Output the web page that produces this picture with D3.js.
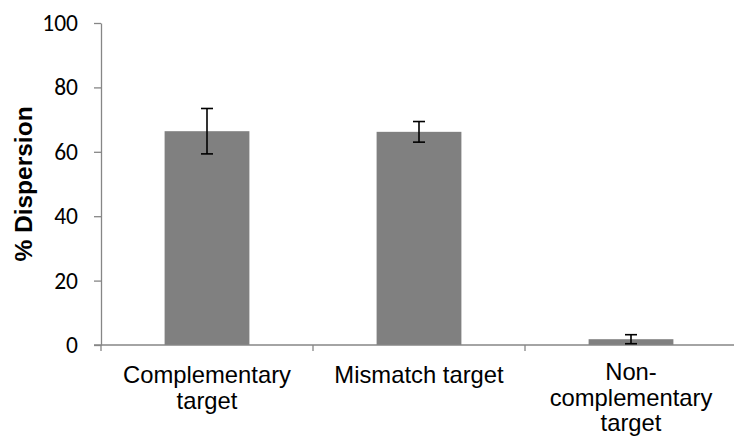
<!DOCTYPE html>
<html>
<head>
<meta charset="utf-8">
<script src="https://cdn.jsdelivr.net/npm/d3@7"></script>
<style>
  html, body { margin: 0; padding: 0; background: #ffffff; }
  #bar-chart-div { width: 734px; height: 442px; }
</style>
</head>
<body>
<div id="bar-chart-div"></div>
<script>
// --- Data ---
const categories = ['Complementary target', 'Mismatch target', 'Non-complementary target'];
const categoryLines = [['Complementary', 'target'], ['Mismatch target'], ['Non-', 'complementary', 'target']];
const dispersion = [66.4, 66.2, 1.8];
const errors = [7.05, 3.2, 1.4];
const yTicks = [0, 20, 40, 60, 80, 100];

function createBarChart() {
  const targetDivId = 'bar-chart-div';
  const width = 734;
  const height = 442;
  const plot = { left: 101, right: 737, top: 23, bottom: 345 };
  const axisColor = '#868686';

  const svg = d3.select(`#${targetDivId}`)
    .append('svg')
    .attr('width', width)
    .attr('height', height);

  const x = d3.scaleBand()
    .domain(categories)
    .range([plot.left, plot.right])
    .padding(0);

  const y = d3.scaleLinear()
    .domain([0, 100])
    .range([plot.bottom, plot.top]);

  const data = categories.map((c, i) => ({
    cat: c, lines: categoryLines[i], value: dispersion[i], err: errors[i]
  }));

  const barWidth = x.bandwidth() * 0.4;

  // --- Bars ---
  svg.selectAll('rect.bar')
    .data(data)
    .enter().append('rect')
    .attr('class', 'bar')
    .attr('x', d => x(d.cat) + (x.bandwidth() - barWidth) / 2)
    .attr('width', barWidth)
    .attr('y', d => y(d.value))
    .attr('height', d => y(0) - y(d.value))
    .attr('fill', '#808080');

  // --- Y axis ---
  const yAxis = d3.axisLeft(y)
    .tickValues(yTicks)
    .tickSize(7)
    .tickSizeOuter(0)
    .tickPadding(16)
    .tickFormat(d3.format('d'));

  const gy = svg.append('g')
    .attr('transform', `translate(${plot.left},0)`)
    .call(yAxis);
  gy.select('.domain').attr('stroke', axisColor).attr('stroke-width', 1.3);
  gy.selectAll('.tick line').attr('stroke', axisColor).attr('stroke-width', 1.3);
  gy.selectAll('.tick text')
    .style('font-family', 'Carlito, Lato, "Open Sans", sans-serif')
    .style('font-size', '23.5px')
    .attr('fill', '#000');

  // --- X axis (Excel style: ticks between categories) ---
  svg.append('line')
    .attr('x1', plot.left - 7)
    .attr('x2', plot.right)
    .attr('y1', y(0))
    .attr('y2', y(0))
    .attr('stroke', axisColor)
    .attr('stroke-width', 1.3);

  const boundaries = categories.map(c => x(c)).concat([x.range()[1]]);
  svg.selectAll('line.xtick')
    .data(boundaries)
    .enter().append('line')
    .attr('class', 'xtick')
    .attr('x1', d => d)
    .attr('x2', d => d)
    .attr('y1', y(0))
    .attr('y2', y(0) + 6)
    .attr('stroke', axisColor)
    .attr('stroke-width', 1.3);

  const labels = svg.selectAll('text.xlabel')
    .data(data)
    .enter().append('text')
    .attr('class', 'xlabel')
    .attr('text-anchor', 'middle')
    .style('font-family', '"Liberation Sans", Arial, sans-serif')
    .style('font-size', '23.8px')
    .attr('fill', '#000')
    .attr('transform', d => `translate(${x(d.cat) + x.bandwidth() / 2},${d.lines.length > 2 ? 380 : 383})`);

  labels.selectAll('tspan')
    .data(d => d.lines)
    .enter().append('tspan')
    .attr('x', 0)
    .attr('y', (d, i) => i * 25.5)
    .text(d => d);

  // --- Error bars ---
  const capHalf = 6;
  const eb = svg.selectAll('g.errbar')
    .data(data)
    .enter().append('g')
    .attr('class', 'errbar')
    .attr('stroke', '#000')
    .attr('stroke-width', 1.6);

  eb.append('line')
    .attr('x1', d => x(d.cat) + x.bandwidth() / 2)
    .attr('x2', d => x(d.cat) + x.bandwidth() / 2)
    .attr('y1', d => y(d.value - d.err))
    .attr('y2', d => y(d.value + d.err));
  eb.append('line')
    .attr('x1', d => x(d.cat) + x.bandwidth() / 2 - capHalf)
    .attr('x2', d => x(d.cat) + x.bandwidth() / 2 + capHalf)
    .attr('y1', d => y(d.value + d.err))
    .attr('y2', d => y(d.value + d.err));
  eb.append('line')
    .attr('x1', d => x(d.cat) + x.bandwidth() / 2 - capHalf)
    .attr('x2', d => x(d.cat) + x.bandwidth() / 2 + capHalf)
    .attr('y1', d => y(d.value - d.err))
    .attr('y2', d => y(d.value - d.err));

  // --- Y title ---
  svg.append('text')
    .attr('transform', `translate(32,${(plot.top + plot.bottom) / 2}) rotate(-90)`)
    .attr('text-anchor', 'middle')
    .style('font-family', '"Liberation Sans", Arial, sans-serif')
    .style('font-size', '24.5px')
    .style('font-weight', 'bold')
    .attr('fill', '#000')
    .text('% Dispersion');
}

createBarChart();
</script>
</body>
</html>
